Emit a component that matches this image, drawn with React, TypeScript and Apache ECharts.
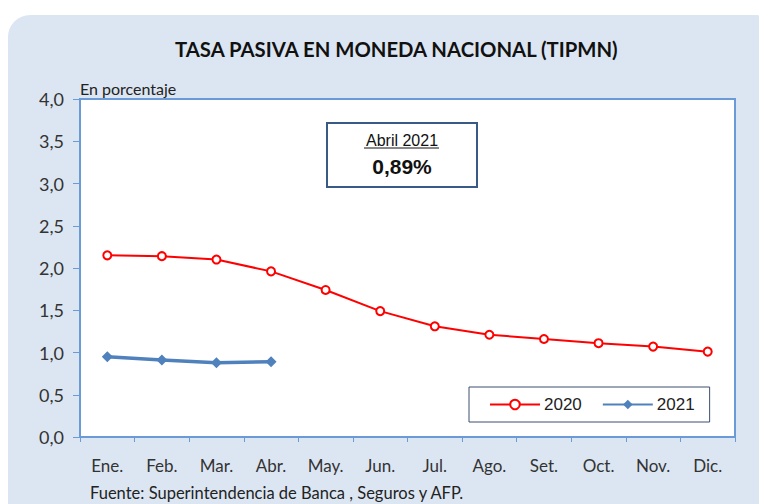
import React, { useEffect, useRef } from "react";
import * as echarts from "echarts";

const months = ["Ene.", "Feb.", "Mar.", "Abr.", "May.", "Jun.", "Jul.", "Ago.", "Set.", "Oct.", "Nov.", "Dic."];
const values2020 = [2.15, 2.14, 2.1, 1.96, 1.74, 1.49, 1.31, 1.21, 1.16, 1.11, 1.07, 1.01];
const values2021 = [0.95, 0.91, 0.88, 0.89];
const yTicks = [0, 0.5, 1, 1.5, 2, 2.5, 3, 3.5, 4];

const title = "TASA PASIVA EN MONEDA NACIONAL (TIPMN)";
const unitLabel = "En porcentaje";
const sourceLabel = "Fuente: Superintendencia de Banca , Seguros y AFP.";
const boxLabel = "Abril 2021";
const boxValue = "0,89%";

const AXIS_BLUE = "#6b9bd6";
const CAL = "Lato, 'Open Sans', sans-serif";
const ARIAL = "'Liberation Sans', Arial, sans-serif";

export default function App() {
  const ref = useRef<HTMLDivElement>(null);
  useEffect(() => {
    if (!ref.current) return;
    const chart = echarts.init(ref.current, null, { renderer: "svg" });
    chart.setOption({
      animation: false,
      backgroundColor: "#ffffff",
      title: {
        text: title,
        left: 170,
        top: 34,
        textStyle: { fontFamily: CAL, fontSize: 20.3, fontWeight: "bold", color: "#111111" },
      },
      grid: {
        left: 80,
        top: 99,
        width: 655,
        height: 338,
        show: true,
        backgroundColor: "#ffffff",
        borderColor: AXIS_BLUE,
        borderWidth: 2,
      },
      legend: {
        left: 469,
        top: 387,
        padding: [9, 15, 9, 20],
        itemWidth: 50,
        itemHeight: 12,
        itemGap: 20,
        backgroundColor: "#ffffff",
        borderColor: "#3d4f6e",
        borderWidth: 1,
        borderRadius: 0,
        textStyle: { fontFamily: ARIAL, fontSize: 17, color: "#222222", padding: [0, 0, 0, -1] },
        data: ["2020", "2021"],
      },
      xAxis: {
        type: "category",
        data: months,
        boundaryGap: true,
        axisLine: { lineStyle: { color: AXIS_BLUE, width: 2 } },
        axisTick: { show: true, length: 5, interval: 0, lineStyle: { color: AXIS_BLUE, width: 1 } },
        axisLabel: { interval: 0, margin: 20, fontFamily: CAL, fontSize: 17, color: "#333333" },
        splitLine: { show: false },
      },
      yAxis: {
        type: "value",
        min: 0,
        max: 4,
        interval: 0.5,
        axisLine: { show: true, lineStyle: { color: AXIS_BLUE, width: 2 } },
        axisTick: { show: true, length: 7, lineStyle: { color: AXIS_BLUE, width: 1 } },
        axisLabel: {
          margin: 16,
          fontFamily: CAL,
          fontSize: 18,
          color: "#333333",
          formatter: (v: number) => (yTicks.includes(v) ? v.toFixed(1).replace(".", ",") : ""),
        },
        splitLine: { show: false },
      },
      series: [
        {
          name: "2020",
          type: "line",
          data: values2020,
          symbol: "emptyCircle",
          symbolSize: 8,
          itemStyle: { color: "#ff0000", borderWidth: 2 },
          lineStyle: { color: "#ff0000", width: 2 },
          z: 3,
        },
        {
          name: "2021",
          type: "line",
          data: values2021,
          symbol: "diamond",
          symbolSize: 11,
          itemStyle: { color: "#4f81bd" },
          lineStyle: { color: "#4f81bd", width: 3.5 },
          z: 4,
        },
      ],
      graphic: [
        {
          type: "rect",
          z: -10,
          silent: true,
          shape: { x: 8, y: 15, width: 770, height: 520, r: 22 },
          style: { fill: "#dce6f2" },
        },
        {
          type: "text",
          x: 80,
          y: 88,
          style: {
            text: unitLabel,
            fontFamily: CAL,
            fontSize: 16,
            fill: "#222222",
            verticalAlign: "middle",
          },
        },
        {
          type: "text",
          x: 90,
          y: 493,
          style: {
            text: sourceLabel,
            fontFamily: CAL,
            fontSize: 16.5,
            fill: "#222222",
            verticalAlign: "middle",
          },
        },
        {
          type: "rect",
          z: 10,
          shape: { x: 327, y: 123, width: 150, height: 64 },
          style: { fill: "#ffffff", stroke: "#3a5a86", lineWidth: 2 },
        },
        {
          type: "text",
          z: 11,
          x: 402,
          y: 140,
          style: {
            text: boxLabel,
            fontFamily: ARIAL,
            fontSize: 16,
            fill: "#111111",
            align: "center",
            verticalAlign: "middle",
          },
        },
        {
          type: "line",
          z: 11,
          shape: { x1: 364, y1: 148, x2: 439, y2: 148 },
          style: { stroke: "#111111", lineWidth: 1 },
        },
        {
          type: "text",
          z: 11,
          x: 402,
          y: 166,
          style: {
            text: boxValue,
            fontFamily: ARIAL,
            fontSize: 21,
            fontWeight: "bold",
            fill: "#111111",
            align: "center",
            verticalAlign: "middle",
          },
        },
      ],
    });
    return () => chart.dispose();
  }, []);
  return (
    <div
      ref={ref}
      style={{ position: "fixed", left: 0, top: 0, width: 759, height: 504 }}
    />
  );
}
